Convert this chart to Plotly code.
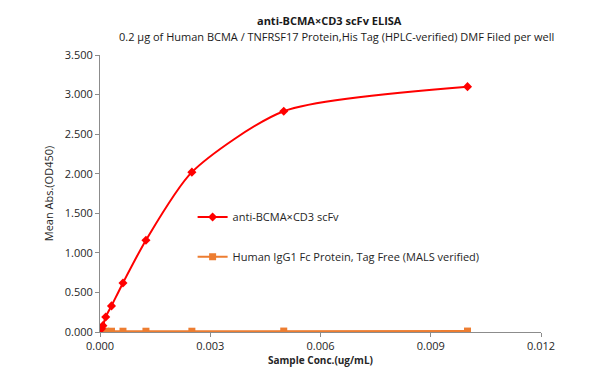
import plotly.graph_objects as go

conc_red = [0.01, 0.005, 0.0025, 0.00125, 0.000625, 0.0003125, 0.000156, 0.000078, 0.000039]
od_red = [3.10, 2.79, 2.02, 1.16, 0.62, 0.33, 0.19, 0.08, 0.04]

conc_org = [0.01, 0.005, 0.0025, 0.00125, 0.000625, 0.0003125, 0.000156, 0.000078, 0.000039]
od_org = [0.012, 0.012, 0.010, 0.010, 0.010, 0.010, 0.010, 0.010, 0.010]

name_red = "anti-BCMA×CD3 scFv"
name_org = "Human IgG1 Fc Protein, Tag Free (MALS verified)"

title_text = "anti-BCMA×CD3 scFv ELISA"
subtitle_text = "0.2 μg of Human BCMA / TNFRSF17 Protein,His Tag (HPLC-verified) DMF Filed per well"

x_ticks = [0, 0.003, 0.006, 0.009, 0.012]
x_tick_text = ["0.000", "0.003", "0.006", "0.009", "0.012"]
y_ticks = [0, 0.5, 1.0, 1.5, 2.0, 2.5, 3.0, 3.5]
y_tick_text = ["0.000", "0.500", "1.000", "1.500", "2.000", "2.500", "3.000", "3.500"]

FONT = "Open Sans"
AXIS_GREY = "#8C8C8C"

fig = go.Figure()
fig.add_trace(go.Scatter(
    x=conc_org, y=od_org, name=name_org, mode="lines+markers",
    line=dict(color="#ED7D31", width=2),
    marker=dict(symbol="square", size=7, color="#ED7D31"),
    legend="legend2",
))
fig.add_trace(go.Scatter(
    x=conc_red, y=od_red, name=name_red, mode="lines+markers",
    line=dict(color="#FF0000", width=2, shape="spline", smoothing=0.7),
    marker=dict(symbol="diamond", size=7, color="#FF0000"),
    legend="legend",
))

# page body has an 8px margin, so the figure is offset by 8px
fig.update_layout(
    width=603, height=367,
    margin=dict(l=92, r=70, t=47, b=43),
    showlegend=True,
    paper_bgcolor="white", plot_bgcolor="white",
    font=dict(family=FONT, size=11, color="#262626"),
    annotations=[
        dict(text="<b>" + title_text + "</b>", xref="paper", yref="paper",
             x=0.5215, y=1.126, xanchor="center", yanchor="middle", showarrow=False,
             font=dict(family=FONT, size=11, color="#1a1a1a")),
        dict(text=subtitle_text, xref="paper", yref="paper",
             x=0.537, y=1.065, xanchor="center", yanchor="middle", showarrow=False,
             font=dict(family=FONT, size=11, color="#1a1a1a")),
    ],
    legend=dict(x=0.21, y=0.415, xanchor="left", yanchor="middle",
                bgcolor="rgba(0,0,0,0)", font=dict(size=11, color="#262626")),
    legend2=dict(x=0.21, y=0.272, xanchor="left", yanchor="middle",
                 bgcolor="rgba(0,0,0,0)", font=dict(size=11, color="#262626")),
    xaxis=dict(
        range=[0, 0.012], tickvals=x_ticks, ticktext=x_tick_text,
        showgrid=False, zeroline=False, showline=True, linecolor=AXIS_GREY, linewidth=1,
        ticks="outside", ticklen=4, tickcolor=AXIS_GREY,
        title=dict(text="<b>Sample Conc.(ug/mL)</b>", standoff=2, font=dict(size=10)),
    ),
    yaxis=dict(
        range=[0, 3.5], tickvals=y_ticks, ticktext=y_tick_text,
        showgrid=False, zeroline=False, showline=True, linecolor=AXIS_GREY, linewidth=1,
        ticks="outside", ticklen=4, tickcolor=AXIS_GREY,
        title=dict(text="Mean Abs.(OD450)", standoff=8, font=dict(size=11)),
    ),
)

fig.write_html("out.html")
